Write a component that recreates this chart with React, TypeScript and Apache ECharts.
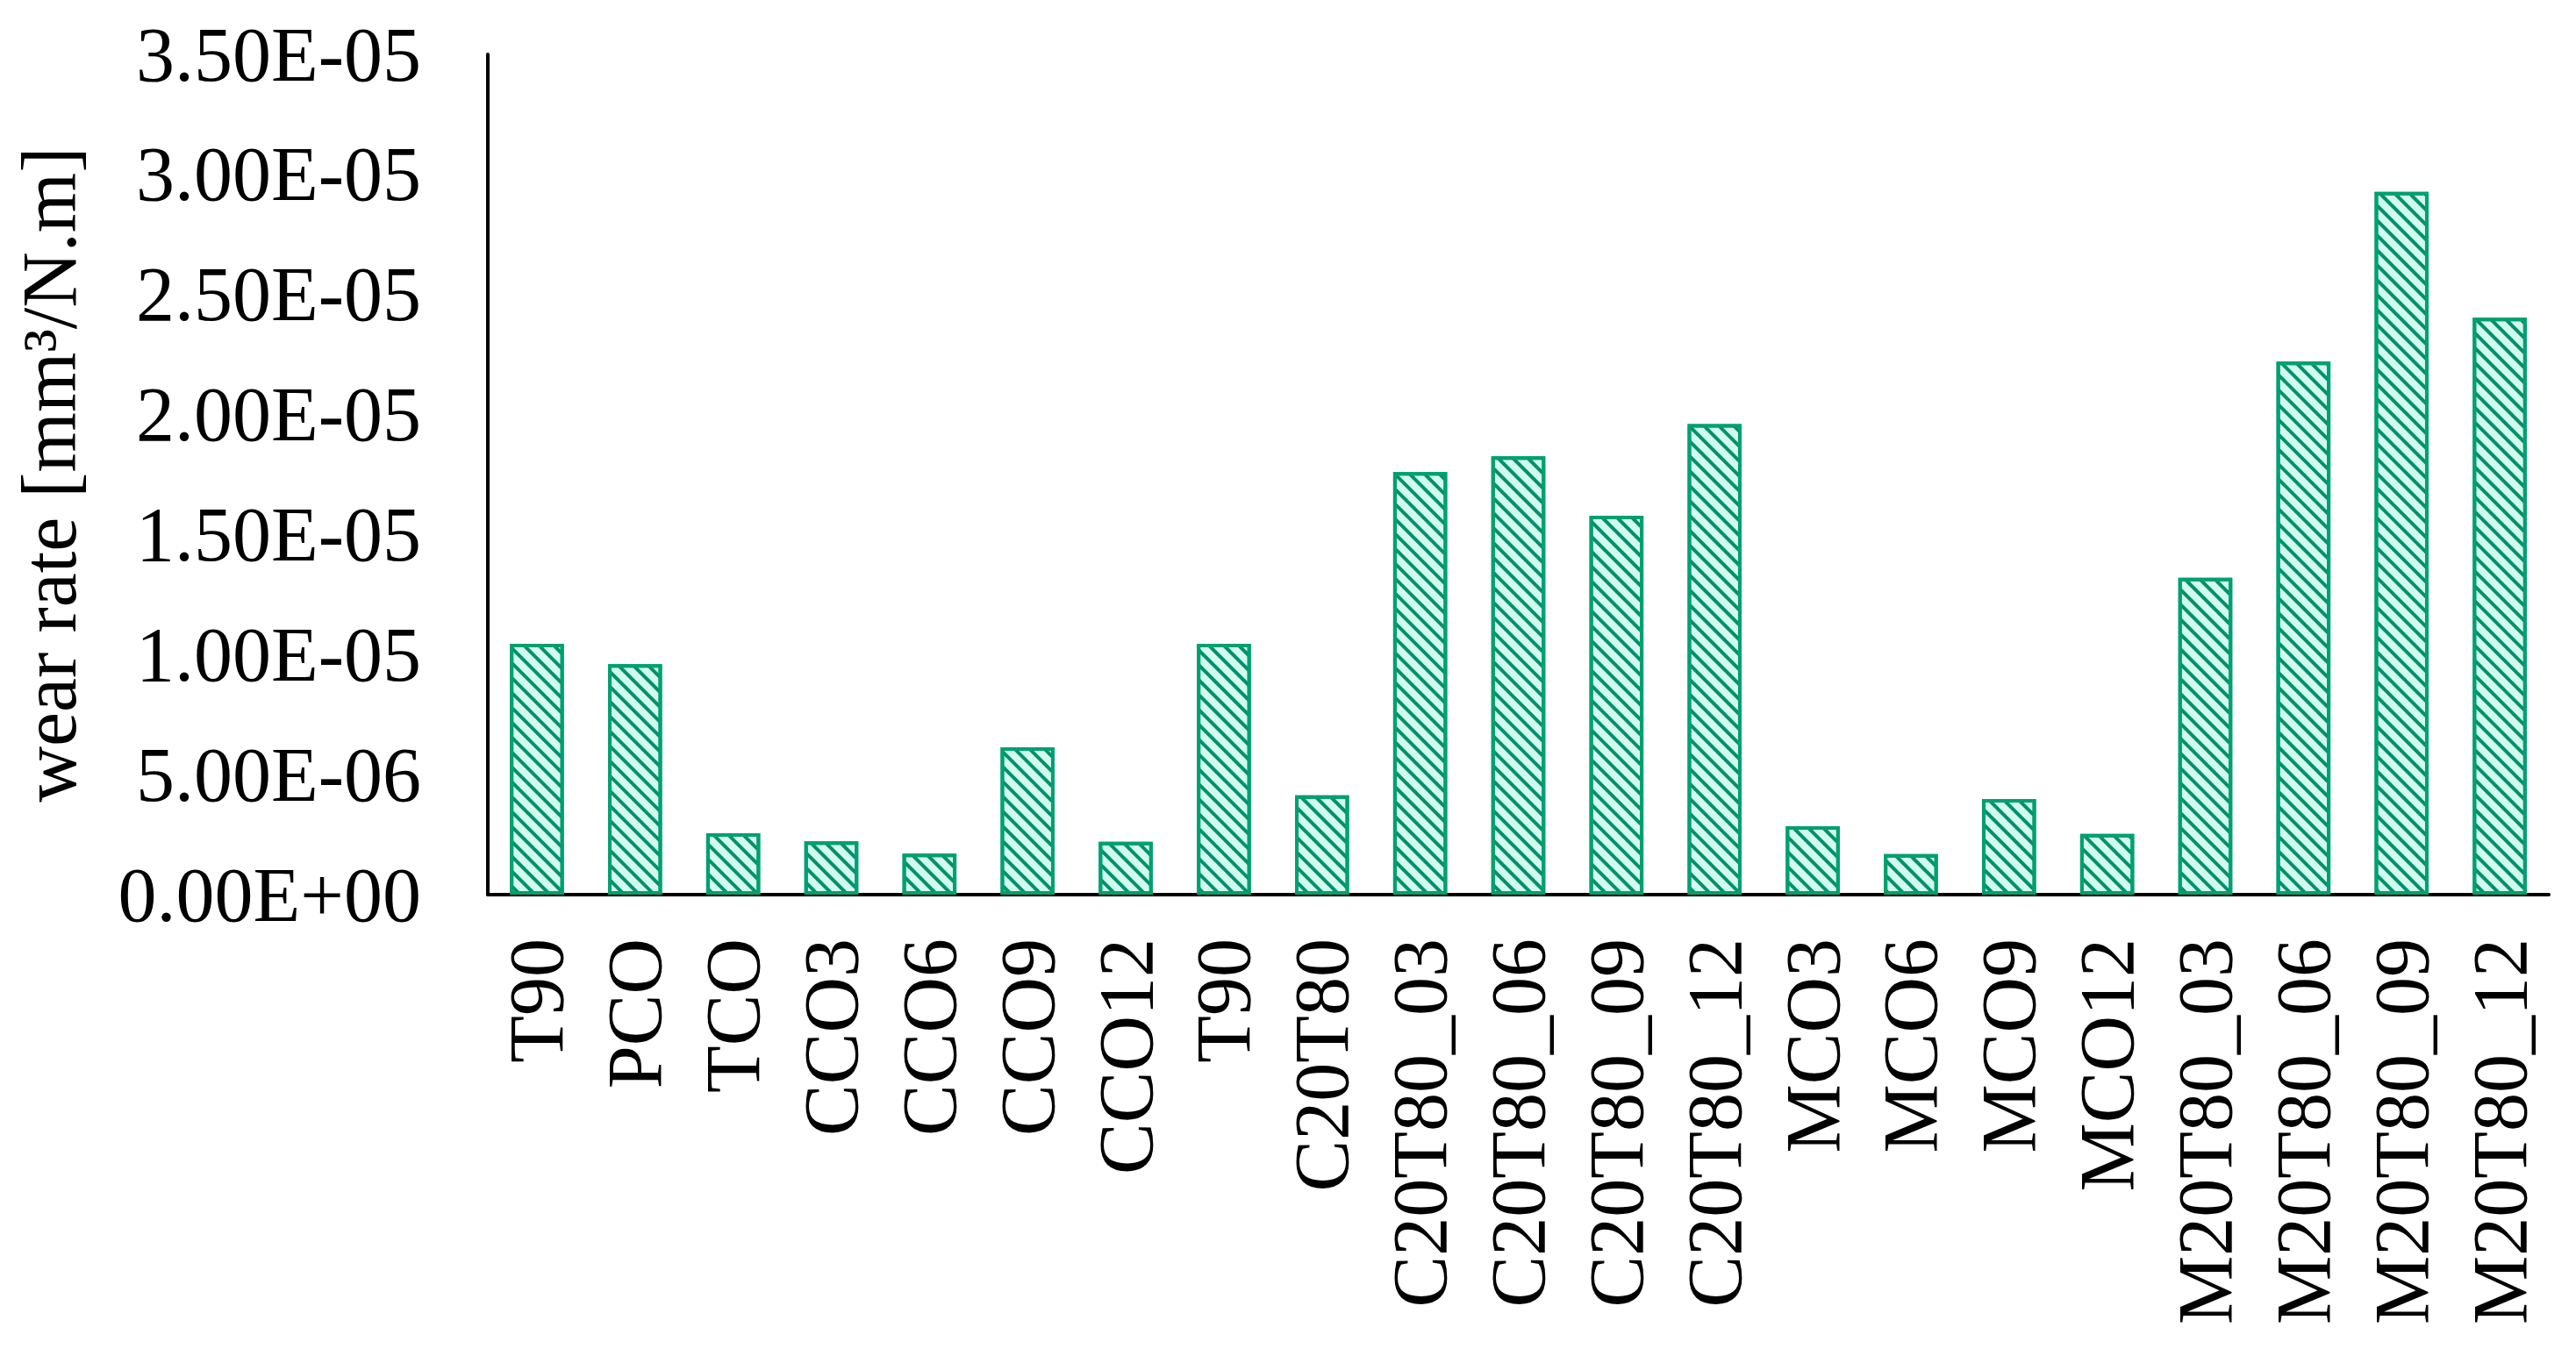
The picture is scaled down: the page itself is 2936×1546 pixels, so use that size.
import React, { useEffect, useRef } from "react";
import * as echarts from "echarts";

const categories = [
  "T90", "PCO", "TCO", "CCO3", "CCO6", "CCO9", "CCO12", "T90", "C20T80",
  "C20T80_03", "C20T80_06", "C20T80_09", "C20T80_12",
  "MCO3", "MCO6", "MCO9", "MCO12",
  "M20T80_03", "M20T80_06", "M20T80_09", "M20T80_12",
];

const wearRate = [
  1.045e-5, 9.6e-6, 2.56e-6, 2.22e-6, 1.71e-6, 6.14e-6, 2.2e-6, 1.045e-5, 4.14e-6,
  1.76e-5, 1.826e-5, 1.578e-5, 1.96e-5,
  2.85e-6, 1.69e-6, 3.98e-6, 2.53e-6,
  1.32e-5, 2.22e-5, 2.927e-5, 2.403e-5,
];

const yMin = 0;
const yMax = 3.5e-5;
const yInterval = 5e-6;
const yAxisTitle = "wear rate [mm³/N.m]";

function fmtExp(v: number): string {
  if (Math.abs(v) < 1e-15) return "0.00E+00";
  const s = v.toExponential(2);
  const [m, e] = s.split("e");
  const sign = e[0] === "-" ? "-" : "+";
  const digits = e.replace(/^[+-]/, "").padStart(2, "0");
  return `${m}E${sign}${digits}`;
}

export default function App() {
  const ref = useRef<HTMLDivElement>(null);
  useEffect(() => {
    if (!ref.current) return;
    const chart = echarts.init(ref.current, undefined, { renderer: "svg" });
    const font = "Liberation Serif";
    chart.setOption({
      animation: false,
      backgroundColor: "#ffffff",
      grid: { left: 556, right: 31, top: 62, bottom: 526, containLabel: false },
      xAxis: {
        type: "category",
        data: categories,
        axisLine: { show: true, lineStyle: { color: "#000000", width: 4 } },
        axisTick: { show: false },
        axisLabel: {
          rotate: 90,
          interval: 0,
          margin: 50,
          fontFamily: font,
          fontSize: 88,
          color: "#000000",
        },
        splitLine: { show: false },
      },
      yAxis: {
        type: "value",
        min: yMin,
        max: yMax,
        interval: yInterval,
        name: yAxisTitle,
        nameLocation: "middle",
        nameGap: 456,
        nameTextStyle: { fontFamily: font, fontSize: 88, color: "#000000" },
        axisLine: { show: true, lineStyle: { color: "#000000", width: 4 } },
        axisTick: { show: false },
        splitLine: { show: false },
        axisLabel: {
          margin: 76,
          fontFamily: font,
          fontSize: 88,
          color: "#000000",
          formatter: (v: number) => fmtExp(v),
        },
      },
      series: [
        {
          type: "bar",
          data: wearRate,
          barWidth: "55%",
          itemStyle: {
            color: "#d2fbee",
            borderColor: "#00a070",
            borderWidth: 4,
            decal: {
              symbol: "rect",
              symbolSize: 1,
              color: "#00916a",
              dashArrayX: [1, 0],
              dashArrayY: [4, 8],
              rotation: Math.PI / 4,
            },
          },
        },
      ],
    });
    return () => chart.dispose();
  }, []);
  return (
    <div
      ref={ref}
      style={{ position: "fixed", left: 0, top: 0, width: 2936, height: 1546 }}
    />
  );
}
